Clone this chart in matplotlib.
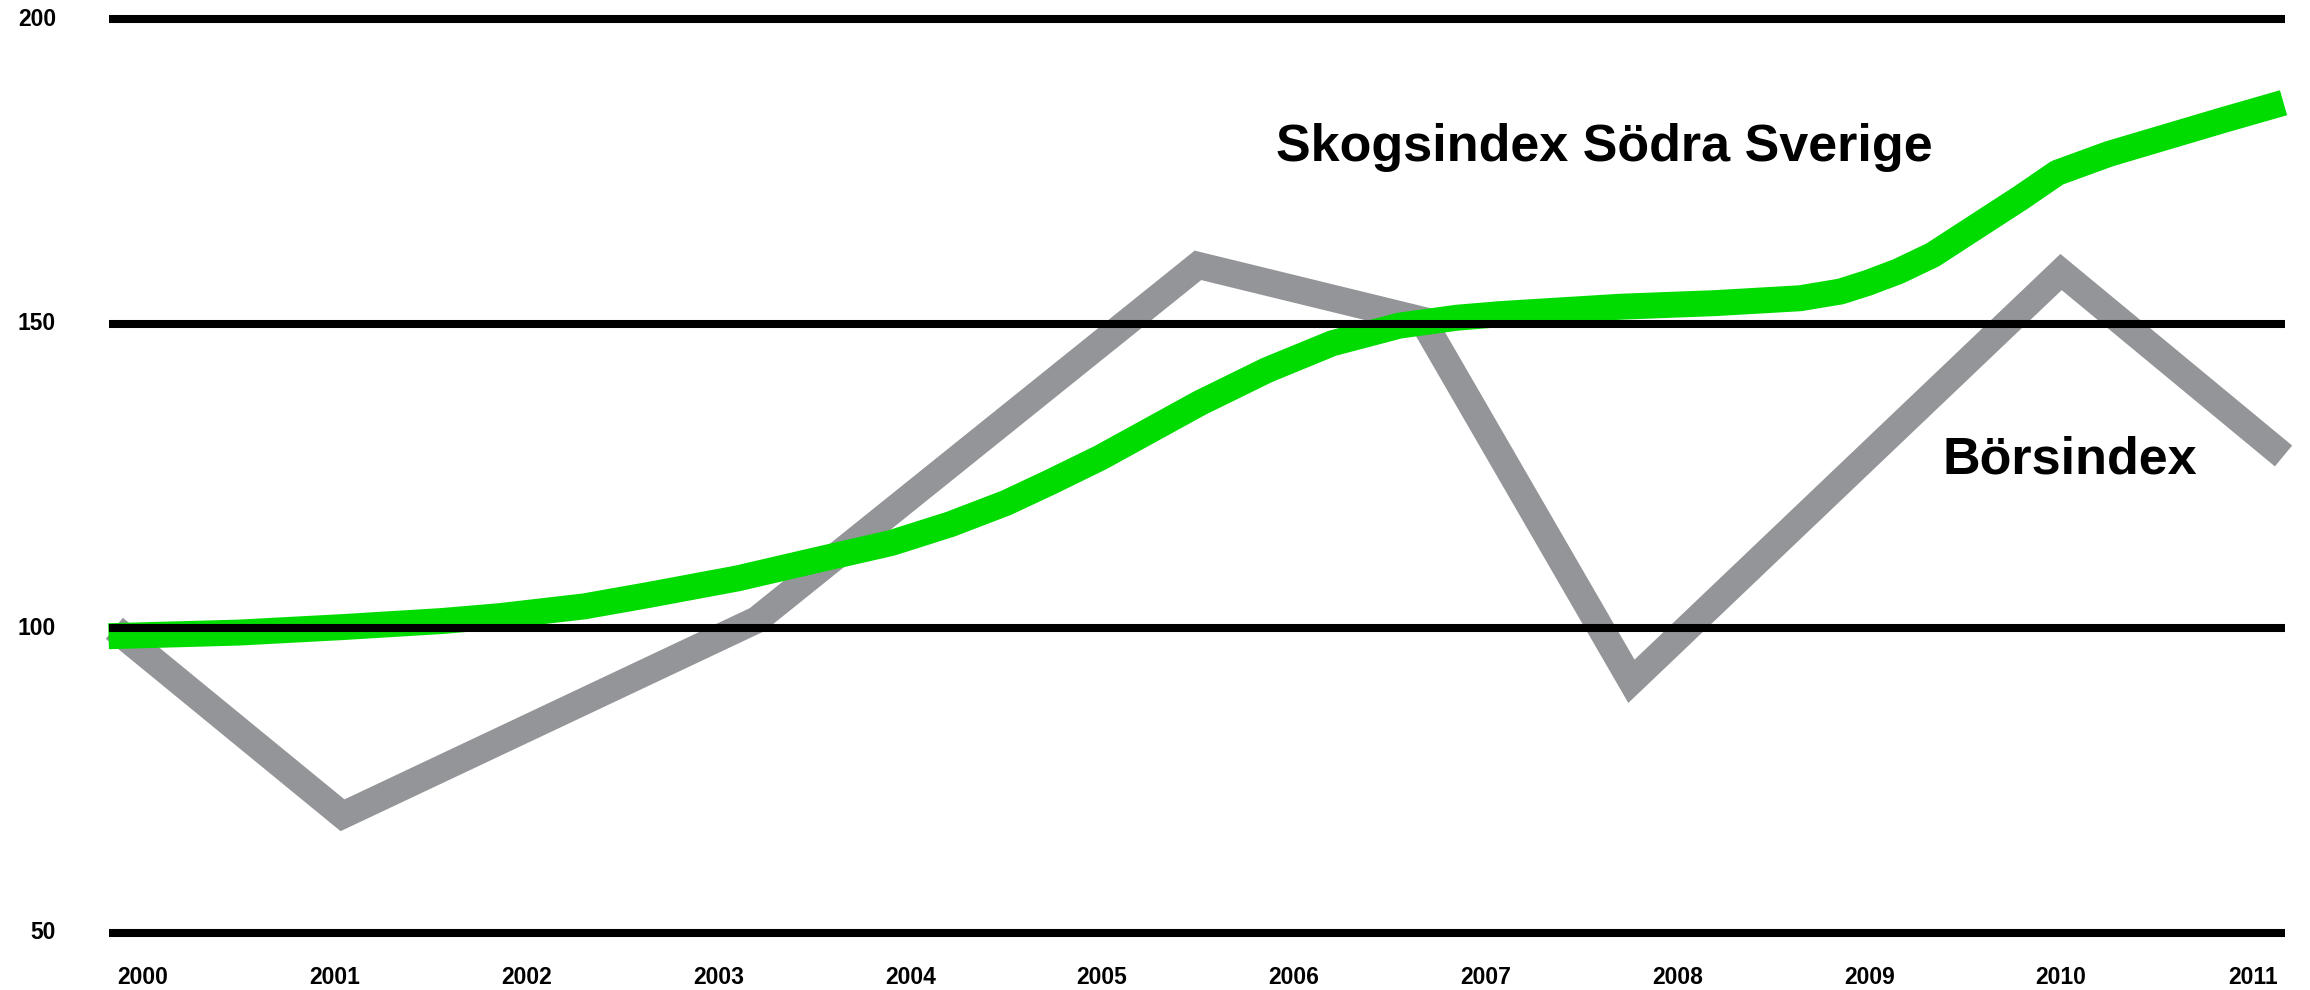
import numpy as np
import matplotlib
matplotlib.use('Agg')
import matplotlib.pyplot as plt

plt.rcParams['font.family'] = ['Liberation Sans', 'DejaVu Sans']
plt.rcParams['font.weight'] = 'bold'

# Börsindex (grey), x in fractional years
bors_x = [1999.85, 2001.04, 2003.20, 2005.50, 2006.67, 2007.76, 2010.00, 2011.16]
bors_y = [100.0, 69.3, 101.4, 159.6, 150.6, 91.3, 158.5, 128.3]

# Skogsindex Södra Sverige (green)
skog_x = [1999.82, 2000.50, 2001.04, 2001.56, 2001.86, 2002.30, 2002.64, 2003.10,
          2003.51, 2003.90, 2004.21, 2004.50, 2004.73, 2004.99, 2005.25, 2005.51,
          2005.86, 2006.20, 2006.55, 2006.85, 2007.08, 2007.70, 2008.20, 2008.64,
          2008.85, 2008.99, 2009.15, 2009.33, 2009.55, 2009.79, 2009.98, 2010.25,
          2010.55, 2010.85, 2011.16]
skog_y = [98.7, 99.3, 100.2, 101.2, 102.0, 103.6, 105.5, 108.2,
          111.2, 114.0, 117.1, 120.6, 124.0, 128.0, 132.5, 137.0,
          142.4, 146.8, 149.7, 151.0, 151.6, 152.8, 153.4, 154.2,
          155.3, 156.7, 158.6, 161.3, 165.8, 170.7, 174.8, 177.9,
          180.7, 183.5, 186.3]

years = list(range(2000, 2012))
yticks = [50, 100, 150, 200]

fig = plt.figure(figsize=(23.1, 9.9), dpi=100)
ax = fig.add_axes([0, 0, 1, 1])
ax.set_xlim(1999.254, 2011.298)
ax.set_ylim(40.61, 203.17)
ax.axis('off')

ax.plot(bors_x, bors_y, color='#939598', lw=19.5, solid_joinstyle='miter',
        solid_capstyle='butt', zorder=2)
ax.plot(skog_x, skog_y, color='#00dc00', lw=18.7, solid_joinstyle='round',
        solid_capstyle='butt', zorder=3)

# horizontal rules on top of the lines
ax.hlines(yticks, 1999.82, 2011.17, color='black', lw=5.8, zorder=4)

for v in yticks:
    ax.text(1999.546, v, str(v), ha='right', va='center', fontsize=16.5,
            fontweight='bold')
for yr in years:
    ax.text(yr, 42.74, str(yr), ha='center', va='center', fontsize=16.5,
            fontweight='bold')

ax.text(2005.907, 176.73, 'Skogsindex Södra Sverige', ha='left', va='baseline',
        fontsize=37.5, fontweight='bold')
ax.text(2009.38, 125.5, 'Börsindex', ha='left', va='baseline',
        fontsize=37.5, fontweight='bold')

plt.savefig('out.png', dpi=100, facecolor='white')
